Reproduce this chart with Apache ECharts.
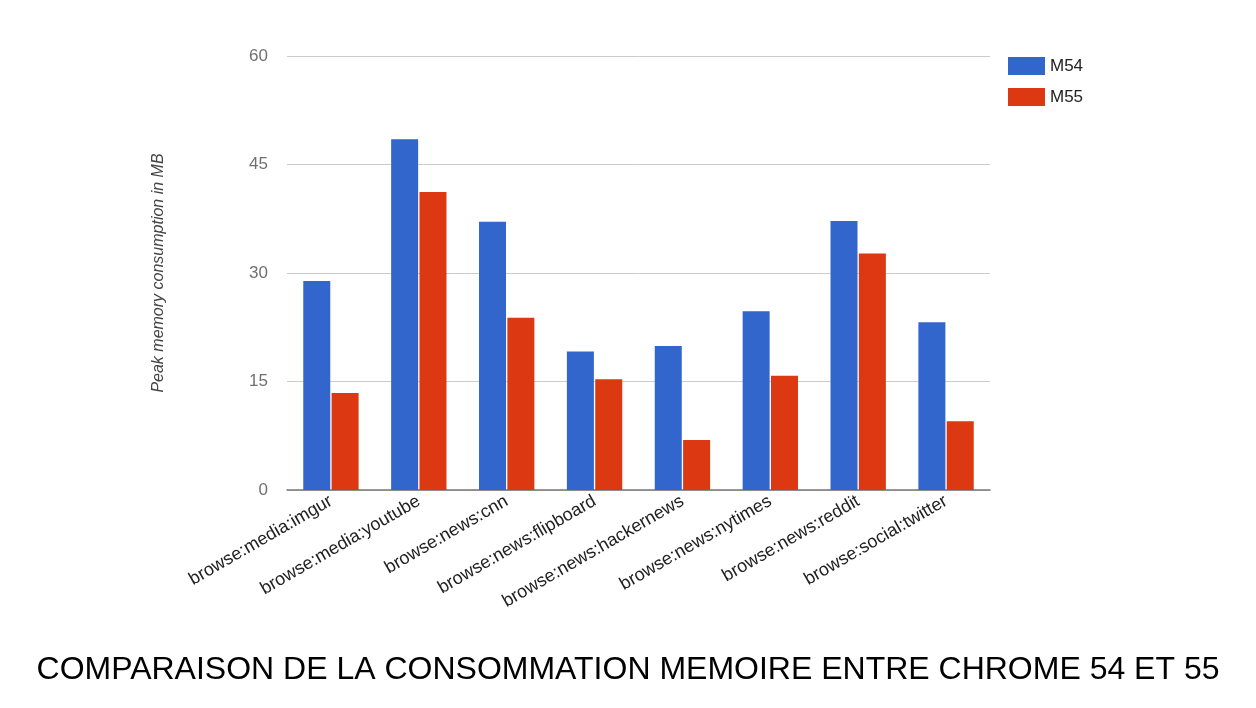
<!DOCTYPE html>
<html>
<head>
<meta charset="utf-8">
<script src="https://cdn.jsdelivr.net/npm/echarts@6/dist/echarts.min.js"></script>
<style>
html,body{margin:0;padding:0;background:#fff;}
#chart{width:1256px;height:708px;}
</style>
</head>
<body>
<div id="chart"></div>
<script>
var categories = ['browse:media:imgur','browse:media:youtube','browse:news:cnn','browse:news:flipboard','browse:news:hackernews','browse:news:nytimes','browse:news:reddit','browse:social:twitter'];
var m54 = [28.9, 48.5, 37.1, 19.15, 19.9, 24.7, 37.2, 23.2];
var m55 = [13.4, 41.2, 23.8, 15.3, 6.9, 15.8, 32.7, 9.5];
var yTicks = [0, 15, 30, 45, 60];

var chart = echarts.init(document.getElementById('chart'));
chart.setOption({
  animation: false,
  backgroundColor: '#ffffff',
  textStyle: { fontFamily: 'Liberation Sans, Arial, sans-serif' },
  title: {
    text: 'COMPARAISON DE LA CONSOMMATION MEMOIRE ENTRE CHROME 54 ET 55',
    left: 'center',
    top: 649,
    textStyle: { fontSize: 32, fontWeight: 'normal', color: '#000', fontFamily: 'Liberation Sans, Arial, sans-serif' }
  },
  legend: {
    orient: 'vertical',
    left: 1003,
    top: 52,
    itemWidth: 37,
    itemHeight: 18,
    itemGap: 13,
    icon: 'rect',
    textStyle: { fontSize: 17, color: '#222' },
    data: ['M54', 'M55']
  },
  grid: { left: 287, right: 266, top: 56, bottom: 218, containLabel: false },
  xAxis: {
    type: 'category',
    data: categories,
    axisTick: { show: false },
    axisLine: { lineStyle: { color: '#777', width: 1.5 } },
    axisLabel: { rotate: 30, fontSize: 18, color: '#222', margin: 10, interval: 0 }
  },
  yAxis: {
    type: 'value',
    min: yTicks[0],
    max: yTicks[yTicks.length - 1],
    interval: 15,
    name: 'Peak memory consumption in MB',
    nameLocation: 'middle',
    nameGap: 120,
    nameTextStyle: { fontSize: 16, fontStyle: 'italic', color: '#444' },
    axisLine: { show: false },
    axisTick: { show: false },
    axisLabel: { fontSize: 17, color: '#707070', margin: 19 },
    splitLine: { lineStyle: { color: '#ccc' } }
  },
  series: [
    { name: 'M54', type: 'bar', data: m54, barWidth: 27, barGap: '5%', itemStyle: { color: '#3366cc' } },
    { name: 'M55', type: 'bar', data: m55, barWidth: 27, itemStyle: { color: '#dc3912' } }
  ]
});
</script>
</body>
</html>
